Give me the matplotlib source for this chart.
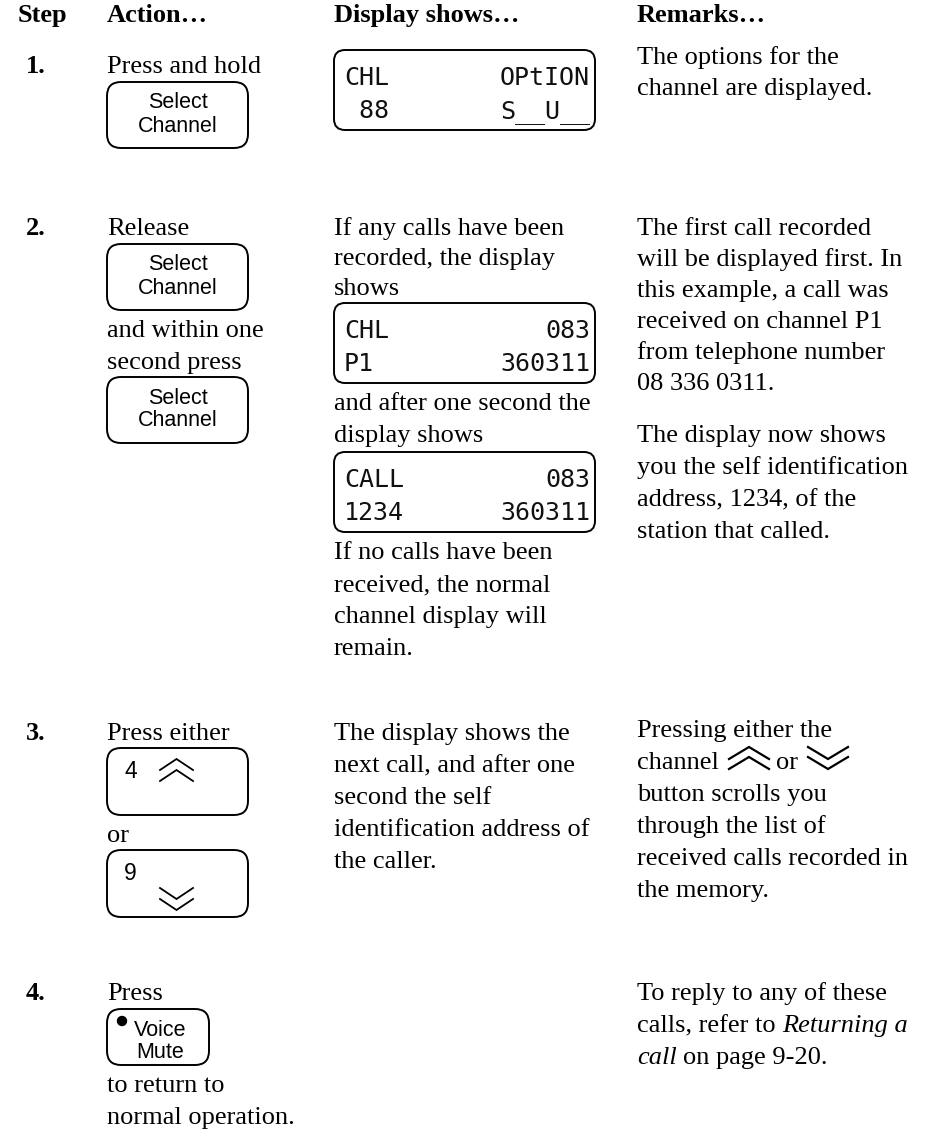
import matplotlib
matplotlib.use('Agg')
import matplotlib.pyplot as plt
from matplotlib.patches import FancyBboxPatch, Circle

# ---------------- content ----------------
headers = ["Step", "Action…", "Display shows…", "Remarks…"]
step_labels = ["1.", "2.", "3.", "4."]

row1_action = ["Press and hold"]
row1_remarks = ["The options for the", "channel are displayed."]
lcd1_rows = [("CHL", "OPtION"), (" 88", "S__U__")]

row2_action_a = ["Release"]
row2_action_b = ["and within one", "second press"]
row2_display_a = ["If any calls have been", "recorded, the display", "shows"]
lcd2_rows = [("CHL", "083"), ("P1", "360311")]
row2_display_b = ["and after one second the", "display shows"]
lcd3_rows = [("CALL", "083"), ("1234", "360311")]
row2_display_c = ["If no calls have been", "received, the normal",
                  "channel display will", "remain."]
row2_remarks_a = ["The first call recorded", "will be displayed first. In",
                  "this example, a call was", "received on channel P1",
                  "from telephone number", "08 336 0311."]
row2_remarks_b = ["The display now shows", "you the self identification",
                  "address, 1234, of the", "station that called."]

row3_action = ["Press either"]
row3_or = "or"
row3_display = ["The display shows the", "next call, and after one",
                "second the self", "identification address of", "the caller."]
row3_remarks_first = "Pressing either the"
row3_remarks_word = ["channel", "or"]
row3_remarks_rest = ["button scrolls you", "through the list of",
                     "received calls recorded in", "the memory."]

row4_action = ["Press"]
row4_action_b = ["to return to", "normal operation."]
row4_remarks = ["To reply to any of these"]
row4_remarks_mixed = [("calls, refer to", "normal"), ("Returning a", "italic")]
row4_remarks_mixed2 = [("call", "italic"), ("on page 9-20.", "normal")]

button_select = ["Select", "Channel"]
button_up = "4"
button_down = "9"
button_voice = ["Voice", "Mute"]

# ---------------- figure ----------------
W, H = 930, 1140
fig = plt.figure(figsize=(9.3, 11.4), dpi=100)
ax = fig.add_axes([0, 0, 1, 1])
ax.set_xlim(0, W)
ax.set_ylim(H, 0)
ax.axis('off')

SERIF = 'Liberation Serif'
SANS = 'Liberation Sans'
MONO = 'DejaVu Sans Mono'
FS = 19
LH = 31.5
LW = 1.4
PX = 100 / 72.0

X_STEP, X_NUM, X_ACT, X_DISP, X_REM = 18, 26, 107, 334, 637

renderer = fig.canvas.get_renderer()


def txt(x, y, s, **kw):
    kw.setdefault('fontfamily', SERIF)
    kw.setdefault('fontsize', FS)
    return ax.text(x, y, s, va='baseline', ha=kw.pop('ha', 'left'), color='black', **kw)


def lines(x, y0, items, lh=LH):
    for i, s in enumerate(items):
        txt(x, y0 + i * lh, s)


def width_of(t):
    bb = t.get_window_extent(renderer)
    return bb.x1


def rbox(x0, y0, w, h, r=13):
    p = FancyBboxPatch((x0, y0), w, h, boxstyle=f"round,pad=0,rounding_size={r}",
                       fc='none', ec='black', lw=LW)
    ax.add_patch(p)


def lcd(x0, y0, rows, w=261, h=80):
    rbox(x0, y0, w, h, r=11)
    for i, (l, r) in enumerate(rows):
        yb = y0 + 35 + i * 33
        ax.text(x0 + 10, yb, l, fontfamily=MONO, fontsize=18, va='baseline',
                ha='left', color='#111111')
        ax.text(x0 + w - 5, yb, r, fontfamily=MONO, fontsize=18, va='baseline',
                ha='right', color='#111111')


def chevrons(x0, x1, ytop, up=True, hh=11, gap=11, lw=1.3):
    xc = (x0 + x1) / 2
    for k in range(2):
        yt = ytop + k * gap
        if up:
            ax.plot([x0, xc, x1], [yt + hh, yt, yt + hh], color='black', lw=lw,
                    solid_joinstyle='miter')
        else:
            ax.plot([x0, xc, x1], [yt, yt + hh, yt], color='black', lw=lw,
                    solid_joinstyle='miter')


def sans(x, y, s, fs=15.5, ha='center', va='center'):
    ax.text(x, y, s, fontfamily=SANS, fontsize=fs, ha=ha, va=va, color='black')


def select_button(y0):
    rbox(X_ACT, y0, 141, 66, r=14)
    sans(X_ACT + 70.5, y0 + 21, button_select[0])
    sans(X_ACT + 70.5, y0 + 44, button_select[1])


# headers
for x, s in zip([X_STEP, X_ACT, X_DISP, X_REM], headers):
    txt(x, 22, s, fontweight='bold')

# step numbers
for y, s in zip([73, 235, 740, 1000], step_labels):
    txt(X_NUM, y, s, fontweight='bold')

# ---- row 1 ----
lines(X_ACT, 73, row1_action)
select_button(82)
lcd(X_DISP, 50, lcd1_rows)
lines(X_REM, 64, row1_remarks)

# ---- row 2 ----
lines(X_ACT, 235, row2_action_a)
select_button(244)
lines(X_ACT, 337, row2_action_b)
select_button(377)

lines(X_DISP, 235, row2_display_a, lh=30)
lcd(X_DISP, 303, lcd2_rows)
lines(X_DISP, 410, row2_display_b, lh=32)
lcd(X_DISP, 452, lcd3_rows)
lines(X_DISP, 559, row2_display_c, lh=32)

lines(X_REM, 235, row2_remarks_a, lh=31)
lines(X_REM, 442, row2_remarks_b, lh=32)

# ---- row 3 ----
lines(X_ACT, 740, row3_action)
rbox(X_ACT, 748, 141, 67, r=14)
sans(X_ACT + 17, 778, button_up, fs=16.5, ha='left', va='baseline')
chevrons(160, 193, 759, up=True)
txt(X_ACT, 842, row3_or)
rbox(X_ACT, 850, 141, 67, r=14)
sans(X_ACT + 17, 880, button_down, fs=16.5, ha='left', va='baseline')
chevrons(160, 193, 888, up=False)

lines(X_DISP, 740, row3_display, lh=32)

txt(X_REM, 737, row3_remarks_first)
t = txt(X_REM, 769, row3_remarks_word[0])
chevrons(729, 769, 747, up=True, hh=12, gap=10, lw=1.6)
txt(776, 769, row3_remarks_word[1])
chevrons(808, 848, 747, up=False, hh=12, gap=10, lw=1.6)
lines(X_REM, 801, row3_remarks_rest, lh=32)

# ---- row 4 ----
lines(X_ACT, 1000, row4_action)
rbox(X_ACT, 1009, 102, 56, r=14)
ax.add_patch(Circle((122, 1021), 4.5, color='black'))
sans(160, 1031, button_voice[0])
sans(160, 1052, button_voice[1])
lines(X_ACT, 1092, row4_action_b, lh=32)

lines(X_REM, 1000, row4_remarks)
space = 0.25 * FS * PX


def mixed(x, y, parts):
    for s, style in parts:
        t = txt(x, y, s, fontstyle=style)
        x = width_of(t) + space


mixed(X_REM, 1032, row4_remarks_mixed)
mixed(X_REM, 1064, row4_remarks_mixed2)

fig.savefig('out.png', dpi=100, facecolor='white')
